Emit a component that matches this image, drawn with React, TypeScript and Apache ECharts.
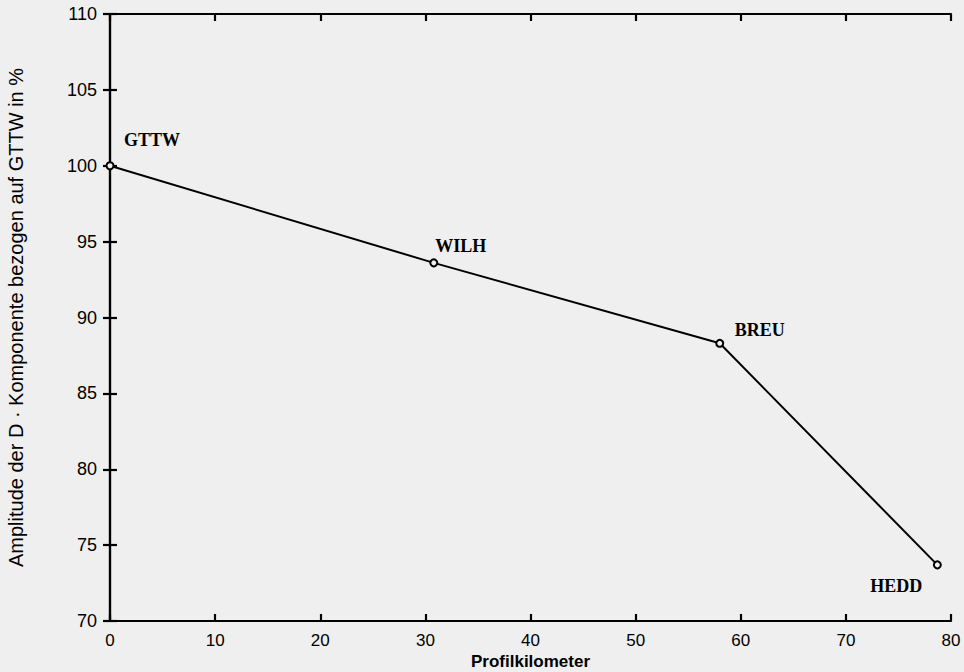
import React, { useEffect, useRef } from "react";
import * as echarts from "echarts";

const stations = ["GTTW", "WILH", "BREU", "HEDD"];
const profileKm = [0, 30.8, 58.0, 78.7];
const amplitude = [100.0, 93.6, 88.3, 73.7];
const xTicks = [0, 10, 20, 30, 40, 50, 60, 70, 80];
const yTicks = [70, 75, 80, 85, 90, 95, 100, 105, 110];
const labelOffsets: [number, number][] = [
  [42, -26],
  [27, -17],
  [40, -13],
  [-41, 21],
];

export default function App() {
  const ref = useRef<HTMLDivElement>(null);
  useEffect(() => {
    if (!ref.current) return;
    const chart = echarts.init(ref.current, null, { renderer: "svg" });
    const axisLine = { show: true, lineStyle: { color: "#000", width: 2.2 } };
    const axisTick = { show: true, inside: true, length: 7, lineStyle: { color: "#000", width: 2.2 } };
    const labelFont = { fontFamily: "Liberation Sans, Arial, sans-serif", fontSize: 18, color: "#000" };
    const xMin = xTicks[0];
    const xMax = xTicks[xTicks.length - 1];
    const yMin = yTicks[0];
    const yMax = yTicks[yTicks.length - 1];
    chart.setOption({
      animation: false,
      backgroundColor: "#efefef",
      grid: { left: 110, right: 13, top: 14, bottom: 51, containLabel: false, outerBoundsMode: "none" },
      xAxis: [
        {
          type: "value",
          position: "bottom",
          min: xMin,
          max: xMax,
          interval: 10,
          axisLine,
          axisTick,
          splitLine: { show: false },
          axisLabel: { ...labelFont, fontSize: 17, margin: 11 },
          name: "Profilkilometer",
          nameLocation: "middle",
          nameGap: 32,
          nameMoveOverlap: false,
          nameTextStyle: { ...labelFont, fontSize: 17, fontWeight: "bold" },
        },
        {
          type: "value",
          position: "top",
          min: xMin,
          max: xMax,
          interval: 10,
          axisLine,
          axisTick,
          splitLine: { show: false },
          axisLabel: { show: false },
        },
      ],
      yAxis: [
        {
          type: "value",
          position: "left",
          min: yMin,
          max: yMax,
          interval: 5,
          axisLine,
          axisTick,
          splitLine: { show: false },
          axisLabel: { ...labelFont, margin: 13 },
          name: "Amplitude der D · Komponente bezogen auf GTTW in %",
          nameLocation: "middle",
          nameGap: 84,
          nameMoveOverlap: false,
          nameTextStyle: { ...labelFont, fontSize: 20 },
        },
        {
          type: "value",
          position: "right",
          min: yMin,
          max: yMax,
          interval: 5,
          axisLine,
          axisTick,
          splitLine: { show: false },
          axisLabel: { show: false },
        },
      ],
      series: [
        {
          type: "line",
          xAxisIndex: 0,
          yAxisIndex: 0,
          symbol: "circle",
          symbolSize: 7,
          showSymbol: true,
          lineStyle: { color: "#000", width: 2 },
          itemStyle: { color: "#efefef", borderColor: "#000", borderWidth: 2 },
          data: profileKm.map((km, i) => ({
            value: [km, amplitude[i]],
            name: stations[i],
            label: {
              show: true,
              position: "inside",
              offset: labelOffsets[i],
              formatter: stations[i],
              fontFamily: "Liberation Serif, Times New Roman, serif",
              fontWeight: "bold",
              fontSize: 18,
              color: "#000",
            },
          })),
        },
      ],
    });
    return () => chart.dispose();
  }, []);
  return <div ref={ref} style={{ width: 964, height: 672, position: "absolute", left: 0, top: 0 }} />;
}
